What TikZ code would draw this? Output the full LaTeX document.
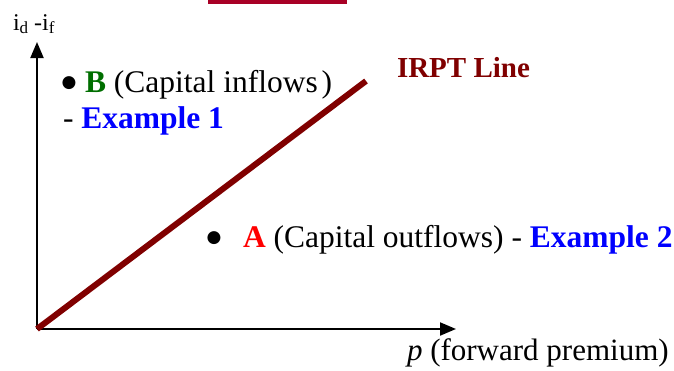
\documentclass[tikz,border=0pt]{standalone}
\usepackage{fontspec}
\setmainfont{Liberation Serif}
\newfontfamily\symfont{DejaVu Sans}
\usetikzlibrary{arrows.meta}
\definecolor{irpt}{RGB}{128,0,0}
\definecolor{topbar}{RGB}{168,0,38}
\definecolor{exblue}{RGB}{0,0,255}
\definecolor{bgreen}{RGB}{0,110,0}
\definecolor{ared}{RGB}{255,0,0}
\begin{document}
\begin{tikzpicture}[x=1pt,y=-1pt,
  lbl/.style={anchor=base west,inner sep=0pt,outer sep=0pt,font=\fontsize{31.5}{36}\selectfont},
  bul/.style={anchor=center,inner sep=0pt,outer sep=0pt,font=\symfont\fontsize{17}{17}\selectfont},
  axis/.style={line width=2pt,-{Triangle[length=16pt,width=13pt]}},
  irptline/.style={line width=6pt,irpt}]
\useasboundingbox (0,0) rectangle (674,370);
\fill[topbar] (208,0) rectangle (347,4);
\coordinate (O) at (37,329);
\coordinate (X) at (456,329);
\coordinate (Y) at (37,42);
\coordinate (E) at (366,81);
\draw[axis] (O) -- (X);
\draw[axis] (O) -- (Y);
\draw[irptline] (O) -- (E);
\node[lbl,font=\fontsize{24}{28}\selectfont] (ylab) at (13,30) {i\raisebox{-0.28ex}{\fontsize{17}{17}\selectfont d} -i\raisebox{-0.28ex}{\fontsize{17}{17}\selectfont f}};
\node[lbl,font=\fontsize{31}{36}\selectfont] (xlab) at (407,360) {\textit{p} (forward premium)};
\node[bul] (bdot) at (69,83) {●};
\node[lbl] (btext) at (85,92) {\textbf{\textcolor{bgreen}{B}} (Capital inflows\kern4pt)};
\node[lbl] (ex1) at (63,128) {- \textbf{\textcolor{exblue}{Example 1}}};
\node[bul] (adot) at (214,238) {●};
\node[lbl] (atext) at (243,247) {\textbf{\textcolor{ared}{A}} (Capital outflows) - \textbf{\textcolor{exblue}{Example 2}}};
\node[lbl,font=\fontsize{29}{34}\selectfont\bfseries,text=irpt] (irptlab) at (397,77) {IRPT Line};
\end{tikzpicture}
\end{document}
